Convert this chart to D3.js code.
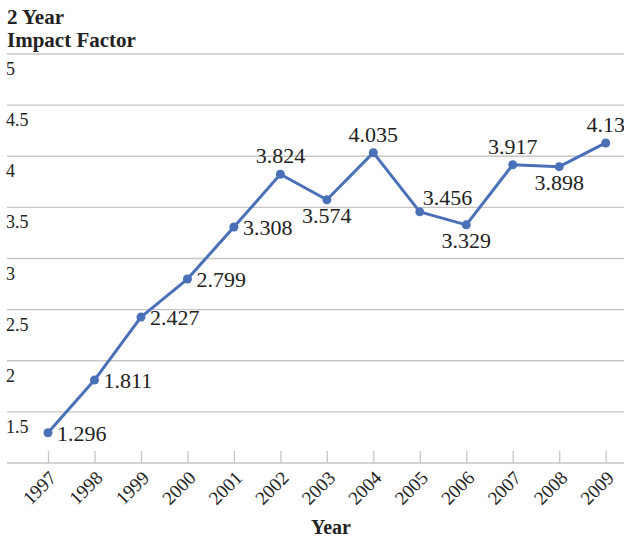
<!DOCTYPE html>
<html><head><meta charset="utf-8">
<script src="https://cdn.jsdelivr.net/npm/d3@7"></script>
<style>body{margin:0;background:#fff}svg{display:block}text{font-family:"Liberation Serif","Times New Roman","DejaVu Serif",serif;fill:#222}</style>
</head><body><div id="chart"></div>
<script>
const years = ["1997","1998","1999","2000","2001","2002","2003","2004","2005","2006","2007","2008","2009"];
const impact = [1.296,1.811,2.427,2.799,3.308,3.824,3.574,4.035,3.456,3.329,3.917,3.898,4.13];
const labelText = ["1.296","1.811","2.427","2.799","3.308","3.824","3.574","4.035","3.456","3.329","3.917","3.898","4.13"];
const labelPlace = ["right","right","right","right","right","above","below","above","aboveRight","below","above","below","above"];
const yTicks = [1.5,2,2.5,3,3.5,4,4.5,5];
const yTickLabels = ["1.5","2","2.5","3","3.5","4","4.5","5"];

const W = 624, H = 539;
const svg = d3.select("#chart").append("svg").attr("width", W).attr("height", H)
  .attr("font-family", '"Liberation Serif","Times New Roman",serif');
const x = d3.scalePoint().domain(years).range([48, 605.7]);
const y = d3.scaleLinear().domain([1, 5]).range([463, 54]);
const grid = "#c6c6c6";

// gridlines
svg.append("g").selectAll("line").data(yTicks).join("line")
  .attr("x1", 7).attr("x2", W).attr("y1", d => y(d)).attr("y2", d => y(d))
  .attr("stroke", grid).attr("stroke-width", 1.3);
// y labels
svg.append("g").selectAll("text").data(yTicks).join("text")
  .attr("x", 6).attr("y", d => y(d) + 21).attr("font-size", 18)
  .text((d, i) => yTickLabels[i]);

// x axis
const xAxis = d3.axisBottom(x).tickSizeInner(-12).tickSizeOuter(0).tickPadding(0);
const gx = svg.append("g").attr("transform", `translate(0,${y(1)})`).call(xAxis);
gx.select(".domain").remove();
gx.selectAll(".tick line").attr("stroke", grid).attr("stroke-width", 1.3);
gx.selectAll(".tick text").attr("font-size", 19).attr("fill", "#222")
  .attr("font-family", '"Liberation Serif","Times New Roman",serif')
  .attr("text-anchor", "end").attr("y", 0).attr("dy", 0)
  .attr("transform", "translate(9,16) rotate(-45)");
svg.append("line").attr("x1", 7).attr("x2", W).attr("y1", y(1)).attr("y2", y(1))
  .attr("stroke", grid).attr("stroke-width", 1.3);

// line
const color = "#4a70b8";
svg.append("path").datum(impact)
  .attr("d", d3.line().x((d, i) => x(years[i])).y(d => y(d)))
  .attr("fill", "none").attr("stroke", color).attr("stroke-width", 3).attr("stroke-linejoin", "round");
svg.append("g").selectAll("circle").data(impact).join("circle")
  .attr("cx", (d, i) => x(years[i])).attr("cy", d => y(d)).attr("r", 4.5).attr("fill", color);

// labels
svg.append("g").selectAll("text").data(impact).join("text")
  .attr("font-size", 22)
  .attr("x", (d, i) => {
    const p = labelPlace[i], cx = x(years[i]);
    if (p === "right") return cx + 9;
    if (p === "aboveRight") return cx + 3;
    return cx;
  })
  .attr("y", (d, i) => {
    const p = labelPlace[i], cy = y(d);
    if (p === "right") return cy + 8;
    if (p === "above") return cy - 11;
    if (p === "aboveRight") return cy - 7;
    return cy + 23;
  })
  .attr("text-anchor", (d, i) => (labelPlace[i] === "right" || labelPlace[i] === "aboveRight") ? "start" : "middle")
  .text((d, i) => labelText[i]);

// titles
svg.append("text").attr("x", 7).attr("y", 24).attr("font-size", 21).attr("font-weight", "bold").text("2 Year");
svg.append("text").attr("x", 7).attr("y", 47).attr("font-size", 21).attr("font-weight", "bold").text("Impact Factor");
svg.append("text").attr("x", 331).attr("y", 534).attr("text-anchor", "middle")
  .attr("font-size", 20).attr("font-weight", "bold").text("Year");
</script></body></html>
